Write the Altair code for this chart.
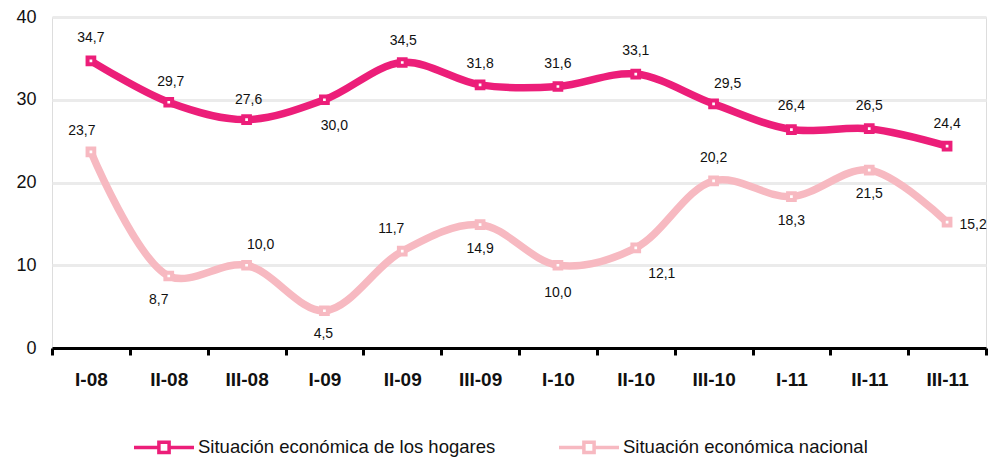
import altair as alt
import pandas as pd

periods = ["I-08", "II-08", "III-08", "I-09", "II-09", "III-09",
           "I-10", "II-10", "III-10", "I-11", "II-11", "III-11"]
series_names = ["Situación económica de los hogares", "Situación económica nacional"]
hogares = [34.7, 29.7, 27.6, 30.0, 34.5, 31.8, 31.6, 33.1, 29.5, 26.4, 26.5, 24.4]
nacional = [23.7, 8.7, 10.0, 4.5, 11.7, 14.9, 10.0, 12.1, 20.2, 18.3, 21.5, 15.2]

# label placement offsets (pixels)
hog_dx = [0, 2, 2, 10, 1, 0, 0, 0, 14, 0, 0, 0]
hog_dy = [-23, -20, -20, 26, -22, -21, -23, -23, -20, -24, -23, -22]
nac_dx = [-9, -10, 14, -1, -11, 0, 0, 26, 0, 0, 0, 26]
nac_dy = [-21, 24, -20, 23, -22, 24, 28, 26, -23, 24, 24, 3]

colors = ["#EC1E79", "#F7B9C1"]

rows = []
for name, vals, dxs, dys in [(series_names[0], hogares, hog_dx, hog_dy),
                             (series_names[1], nacional, nac_dx, nac_dy)]:
    for p, v, dx, dy in zip(periods, vals, dxs, dys):
        rows.append({"periodo": p, "serie": name, "valor": v,
                     "etiqueta": f"{v:.1f}".replace(".", ","),
                     "dx": dx, "dy": dy})
df = pd.DataFrame(rows)

FONT = "Liberation Sans"

x_enc = alt.X("periodo:N", sort=periods,
              scale=alt.Scale(type="band", paddingInner=0, paddingOuter=0),
              axis=alt.Axis(title=None, tickBand="extent", grid=False,
                            domainColor="black", domainWidth=3,
                            tickColor="black", tickWidth=3, tickSize=7,
                            labelFont=FONT, labelFontSize=19, labelFontWeight="bold",
                            labelColor="#111", labelPadding=15, labelAngle=0))
y_enc = alt.Y("valor:Q", scale=alt.Scale(domain=[0, 40]),
              axis=alt.Axis(title=None, values=[0, 10, 20, 30, 40], domain=False,
                            ticks=False, grid=True, gridColor="#EBEBEB", gridWidth=3,
                            labelFont=FONT, labelFontSize=18, labelColor="#111",
                            labelPadding=16))
color_scale = alt.Scale(domain=series_names, range=colors)

legend_path = "M-1,0H-0.17 M0.17,0H1 M-0.17,-0.17H0.17V0.17H-0.17Z"

line = alt.Chart(df).mark_line(interpolate="catmull-rom", strokeWidth=7.5).encode(
    x=x_enc, y=y_enc,
    stroke=alt.Stroke("serie:N", scale=color_scale, sort=series_names,
                      legend=alt.Legend(title=None, orient="none", direction="horizontal",
                                        legendX=80, legendY=398,
                                        symbolType=legend_path, symbolSize=3600,
                                        symbolStrokeWidth=3.5, symbolFillColor="white",
                                        labelFont=FONT, labelFontSize=18.5, labelColor="#111",
                                        columnPadding=56, labelLimit=400, labelOffset=2)),
)

points = alt.Chart(df).mark_point(shape="square", size=45, filled=True, fill="white",
                                  strokeWidth=4, opacity=1).encode(
    x=alt.X("periodo:N", sort=periods), y="valor:Q",
    stroke=alt.Stroke("serie:N", scale=color_scale, legend=None),
)

offset_pairs = sorted(set(zip(df["dx"], df["dy"])))
label_layers = []
for dx, dy in offset_pairs:
    label_layers.append(
        alt.Chart(df).transform_filter(
            (alt.datum.dx == int(dx)) & (alt.datum.dy == int(dy))
        ).mark_text(font=FONT, fontSize=14, color="#111", dx=int(dx), dy=int(dy)).encode(
            x=alt.X("periodo:N", sort=periods), y="valor:Q", text="etiqueta:N",
        )
    )

chart = alt.layer(line, points, *label_layers).properties(
    width=934, height=331,
    padding={"left": 7, "top": 0, "right": 0, "bottom": 0},
).configure_view(stroke=None).configure(background="white")

chart.save("out.html", embed_options={"renderer": "svg", "actions": False})
